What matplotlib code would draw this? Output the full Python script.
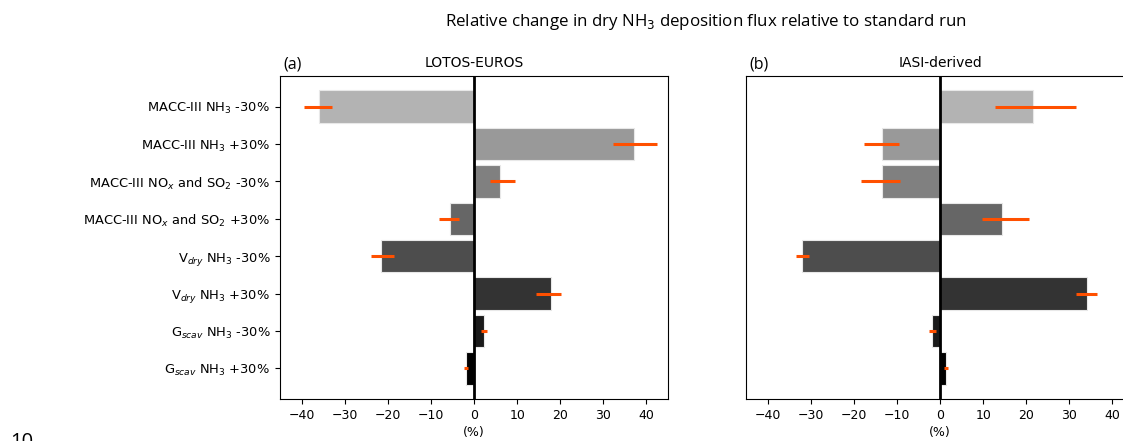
import matplotlib
matplotlib.use("Agg")
import matplotlib.pyplot as plt
import numpy as np

# sensitivity runs, top to bottom
runs = [
    r"MACC-III NH$_3$ -30%",
    r"MACC-III NH$_3$ +30%",
    r"MACC-III NO$_x$ and SO$_2$ -30%",
    r"MACC-III NO$_x$ and SO$_2$ +30%",
    r"V$_{dry}$ NH$_3$ -30%",
    r"V$_{dry}$ NH$_3$ +30%",
    r"G$_{scav}$ NH$_3$ -30%",
    r"G$_{scav}$ NH$_3$ +30%",
]

# LOTOS-EUROS: mean change and spread (min, max) in %
lotos_mean = [-36.0, 37.0, 6.0, -5.6, -21.6, 17.8, 2.3, -1.8]
lotos_lo = [-39.5, 32.2, 3.6, -8.1, -23.9, 14.3, 1.7, -2.3]
lotos_hi = [-32.9, 42.4, 9.4, -3.4, -18.6, 20.2, 2.9, -1.4]

# IASI-derived
iasi_mean = [21.6, -13.5, -13.5, 14.3, -31.9, 34.0, -1.9, 1.5]
iasi_lo = [12.7, -17.7, -18.3, 9.7, -33.3, 31.5, -2.6, 0.85]
iasi_hi = [31.5, -9.5, -9.3, 20.7, -30.4, 36.5, -0.9, 1.9]

greys = ["#b3b3b3", "#999999", "#808080", "#666666",
         "#4d4d4d", "#333333", "#1a1a1a", "#000000"]
err_col = "#ff5000"

fig = plt.figure(figsize=(11.23, 4.41), dpi=100)
ax_a = fig.add_axes([280 / 1123, 42 / 441, 388 / 1123, 323 / 441])
ax_b = fig.add_axes([746 / 1123, 42 / 441, 388 / 1123, 323 / 441])

ypos = np.arange(len(runs))[::-1]


def panel(ax, mean, lo, hi, title, tag):
    ax.barh(ypos, mean, height=0.87, color=greys, edgecolor="#e8e8e8",
            linewidth=0.8, zorder=1)
    ax.hlines(ypos, lo, hi, color=err_col, linewidth=2.2, zorder=3)
    ax.axvline(0, color="black", linewidth=2.0, zorder=4)
    ax.set_xlim(-45, 45)
    ax.set_xticks(np.arange(-40, 41, 10))
    ax.tick_params(axis="x", labelsize=9)
    ax.set_xlabel("(%)", fontsize=9, labelpad=3)
    ax.set_title(title, fontsize=10, pad=6.5)
    # panel tag, a little right of the left spine
    ax.text(0.008, 1.012, tag, transform=ax.transAxes, ha="left", va="bottom",
            fontsize=11.5, family="Open Sans")


panel(ax_a, lotos_mean, lotos_lo, lotos_hi, "LOTOS-EUROS", "(a)")
panel(ax_b, iasi_mean, iasi_lo, iasi_hi, "IASI-derived", "(b)")

ax_a.set_yticks(ypos)
ax_a.set_yticklabels(runs, fontsize=9.4)
ax_a.set_ylim(-0.82, 7.82)
ax_b.set_yticks([])
ax_b.set_ylim(ax_a.get_ylim())

fig.text(706 / 1123, 1 - 22 / 441,
         r"Relative change in dry NH$_3$ deposition flux relative to standard run",
         ha="center", va="center", fontsize=12.2, family="Open Sans")
fig.text(10 / 1123, -6 / 441, "10", ha="left", va="baseline",
         fontsize=14.5, family="Open Sans")

fig.savefig("out.png", dpi=100)
